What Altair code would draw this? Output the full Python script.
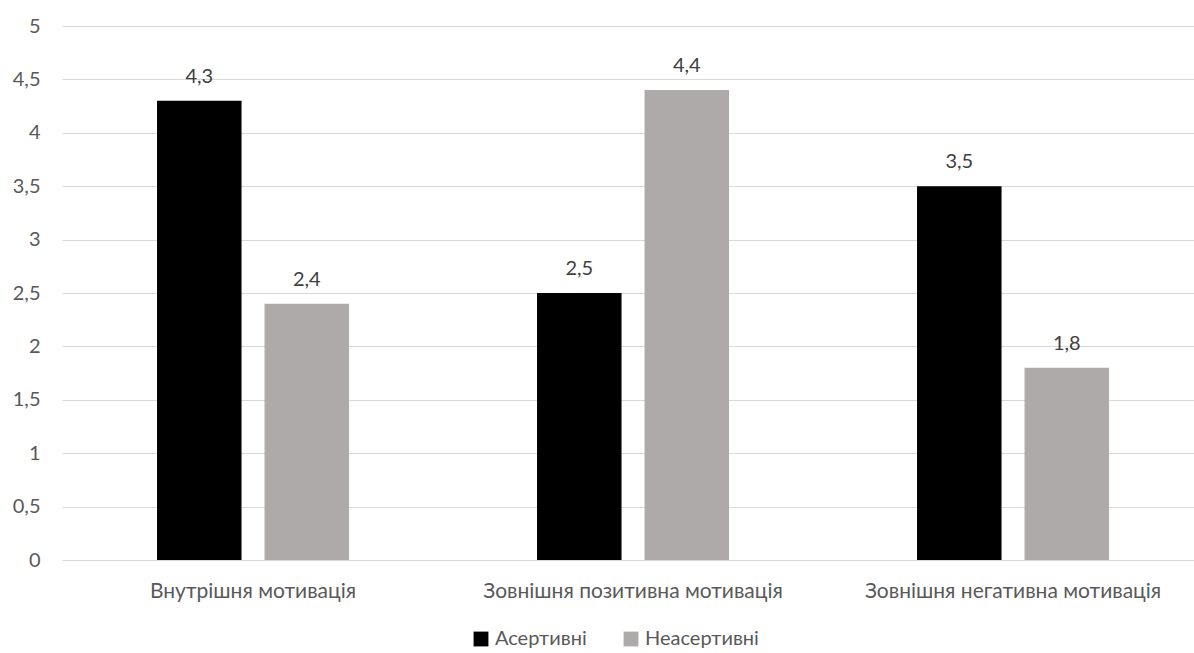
import altair as alt
import pandas as pd

categories = ["Внутрішня мотивація", "Зовнішня позитивна мотивація", "Зовнішня негативна мотивація"]
groups = ["Асертивні", "Неасертивні"]
assertive = [4.3, 2.5, 3.5]
non_assertive = [2.4, 4.4, 1.8]
colors = ["#000000", "#AEAAAA"]
y_ticks = [0, 0.5, 1, 1.5, 2, 2.5, 3, 3.5, 4, 4.5, 5]

rows = []
for c, a, n in zip(categories, assertive, non_assertive):
    rows.append({"category": c, "group": groups[0], "value": a})
    rows.append({"category": c, "group": groups[1], "value": n})
df = pd.DataFrame(rows)

FONT = "Lato"
TXT = "#595959"

x_enc = alt.X("category:N", sort=categories, title=None,
              scale=alt.Scale(paddingInner=0.4947, paddingOuter=0.2368, align=0.528),
              axis=alt.Axis(labelAngle=0, domain=False, ticks=False, labelPadding=20,
                            labelLimit=0,
                            labelFont=FONT, labelFontSize=21, labelColor=TXT))
xoff = alt.XOffset("group:N", sort=groups, scale=alt.Scale(paddingInner=0.214, paddingOuter=0))
y_enc = alt.Y("value:Q", title=None,
              scale=alt.Scale(domain=[0, 5], nice=False),
              axis=alt.Axis(values=y_ticks, domain=False, ticks=False, labelPadding=22,
                            gridColor="#D9D9D9", gridWidth=1,
                            labelExpr="replace(format(datum.value, '~g'), '.', ',')",
                            labelFont=FONT, labelFontSize=20, labelColor=TXT))

base = alt.Chart(df)

bars = base.mark_bar().encode(
    x=x_enc, xOffset=xoff, y=y_enc,
    color=alt.Color("group:N", sort=groups,
                    scale=alt.Scale(domain=groups, range=colors),
                    legend=alt.Legend(title=None, orient="none", direction="horizontal",
                                      legendX=409, legendY=603,
                                      symbolType="square", symbolSize=220,
                                      symbolStrokeWidth=0, labelFont=FONT,
                                      labelFontSize=20, labelColor=TXT,
                                      labelOffset=4, columnPadding=34, labelLimit=0)),
)

labels = base.mark_text(baseline="middle", dy=-24, font=FONT, fontSize=20, color="#404040").encode(
    x=alt.X("category:N", sort=categories), xOffset=alt.XOffset("group:N", sort=groups),
    y="value:Q",
    text=alt.Text("lbl:N"),
).transform_calculate(lbl="replace(format(datum.value, '.1f'), '.', ',')")

chart = (bars + labels).properties(
    width=1132, height=534,
    autosize=alt.AutoSizeParams(type="none"),
    padding={"left": 62, "top": 26, "right": 0, "bottom": 93},
    background="white",
).configure_view(stroke=None)

chart.save("out.html", embed_options={"renderer": "svg", "actions": False})
